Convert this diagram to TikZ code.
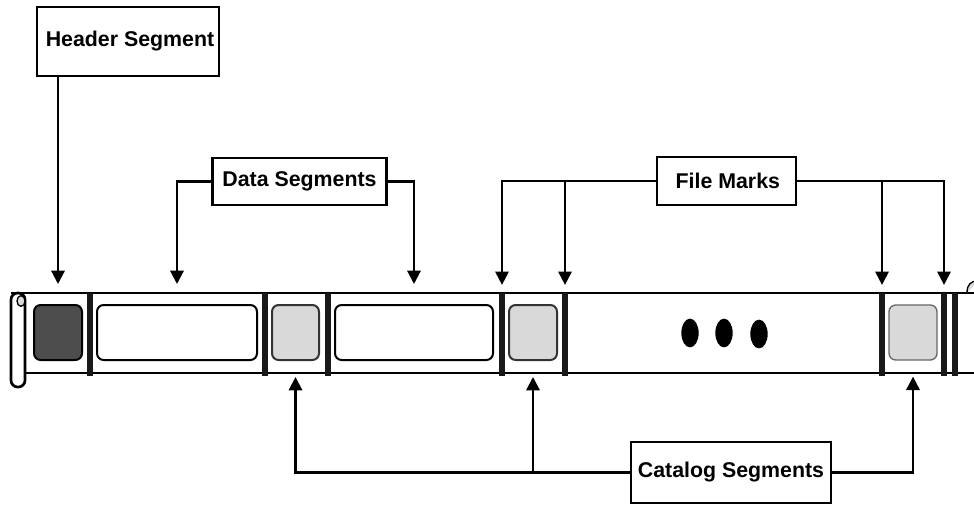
\documentclass[tikz,border=0pt]{standalone}
\usepackage{fontspec}
\setmainfont{Liberation Sans}
\usepackage{xcolor}
\usetikzlibrary{arrows.meta, positioning, calc}

\definecolor{hdrgray}{HTML}{4D4D4D}
\definecolor{catgray}{HTML}{D9D9D9}

\begin{document}
\begin{tikzpicture}[
  x=0.75pt, y=-0.75pt,
  >={Triangle[length=10pt, width=10pt]},
  labelbox/.style={rectangle, draw=black, line width=2.1pt, fill=white, inner sep=0pt, font=\bfseries\fontsize{16}{19}\selectfont},
  segbox/.style={rectangle, rounded corners=5pt, draw=black, line width=1.5pt, inner sep=0pt, minimum height=41.25pt},
  sepbar/.style={rectangle, fill=black!90, inner sep=0pt, minimum width=4.2pt, minimum height=62pt},
  tapeline/.style={line width=2pt},
  conn/.style={->, line width=1.6pt}
]
  \useasboundingbox (0,0) rectangle (974,504);

  % Tape
  \draw[tapeline] (11,293) -- (980,293);
  \draw[tapeline] (25,373) -- (980,373);
  \draw[tapeline, fill=white, rounded corners=5pt] (11,293) rectangle (25,387);
  \draw[line width=1pt, fill=catgray] (21,301) ellipse [x radius=3pt, y radius=4pt];
  \draw[line width=1pt, fill=catgray] (967,293) .. controls (967,284) and (971,281) .. (978,281);

  % Segments on the tape
  \node[segbox, fill=hdrgray, minimum width=36pt] (hdr) at (58,332.5) {};
  \node[segbox, fill=white, minimum width=120pt] (data1) at (177,332.5) {};
  \node[segbox, fill=catgray, draw=black!80, minimum width=35.25pt] (cat1) at (295.5,332.5) {};
  \node[segbox, fill=white, minimum width=118.5pt] (data2) at (414,332.5) {};
  \node[segbox, fill=catgray, draw=black!80, minimum width=36pt] (cat2) at (533,332.5) {};
  \node[segbox, fill=catgray, draw=black!60, line width=1pt, minimum width=36pt] (cat3) at (913,332.5) {};

  % Separators
  \foreach \i/\xpos in {1/90, 2/265, 3/328, 4/502, 5/565, 6/882, 7/944, 8/955}
    \node[sepbar] (sep\i) at (\xpos,334.5) {};

  % More data
  \fill (690,333) ellipse [x radius=6.5pt, y radius=10.8pt];
  \fill (724,333) ellipse [x radius=6.5pt, y radius=10.8pt];
  \fill (759,334) ellipse [x radius=6.5pt, y radius=10.8pt];

  % Labels
  \node[labelbox, minimum width=136.5pt, minimum height=51.75pt] (hs) at (128,41.5) {\hspace*{3pt}Header Segment};
  \node[labelbox, minimum width=130.5pt, minimum height=35.25pt] (ds) at (299.5,181.5) {Data Segments};
  \node[labelbox, minimum width=104.25pt, minimum height=36pt] (fm) at (726.5,181) {\hspace*{2pt}File Marks};
  \node[labelbox, minimum width=150pt, minimum height=45.75pt] (cs) at (731,472.5) {Catalog Segments};

  % Header arrow
  \draw[conn] (hdr.north |- hs.south) -- ([yshift=15pt]hdr.north);

  % Data arrows
  \draw[conn] (ds.west) -| ([yshift=15pt]data1.north);
  \draw[conn] (ds.east) -| ([yshift=15pt]data2.north);

  % File mark arrows
  \draw[conn] (fm.west) -| ([yshift=6pt]sep4.north);
  \draw[conn] (sep5.north |- fm.west) -- ([yshift=6pt]sep5.north);
  \draw[conn] (fm.east) -| ([yshift=6pt]sep7.north);
  \draw[conn] (sep6.north |- fm.east) -- ([yshift=6pt]sep6.north);

  % Catalog arrows
  \draw[conn] (cs.west) -| ([yshift=-12pt]cat1.south);
  \draw[conn] (cat2.south |- cs.west) -- ([yshift=-12pt]cat2.south);
  \draw[conn] (cs.east) -| ([yshift=-12pt]cat3.south);
\end{tikzpicture}
\end{document}
